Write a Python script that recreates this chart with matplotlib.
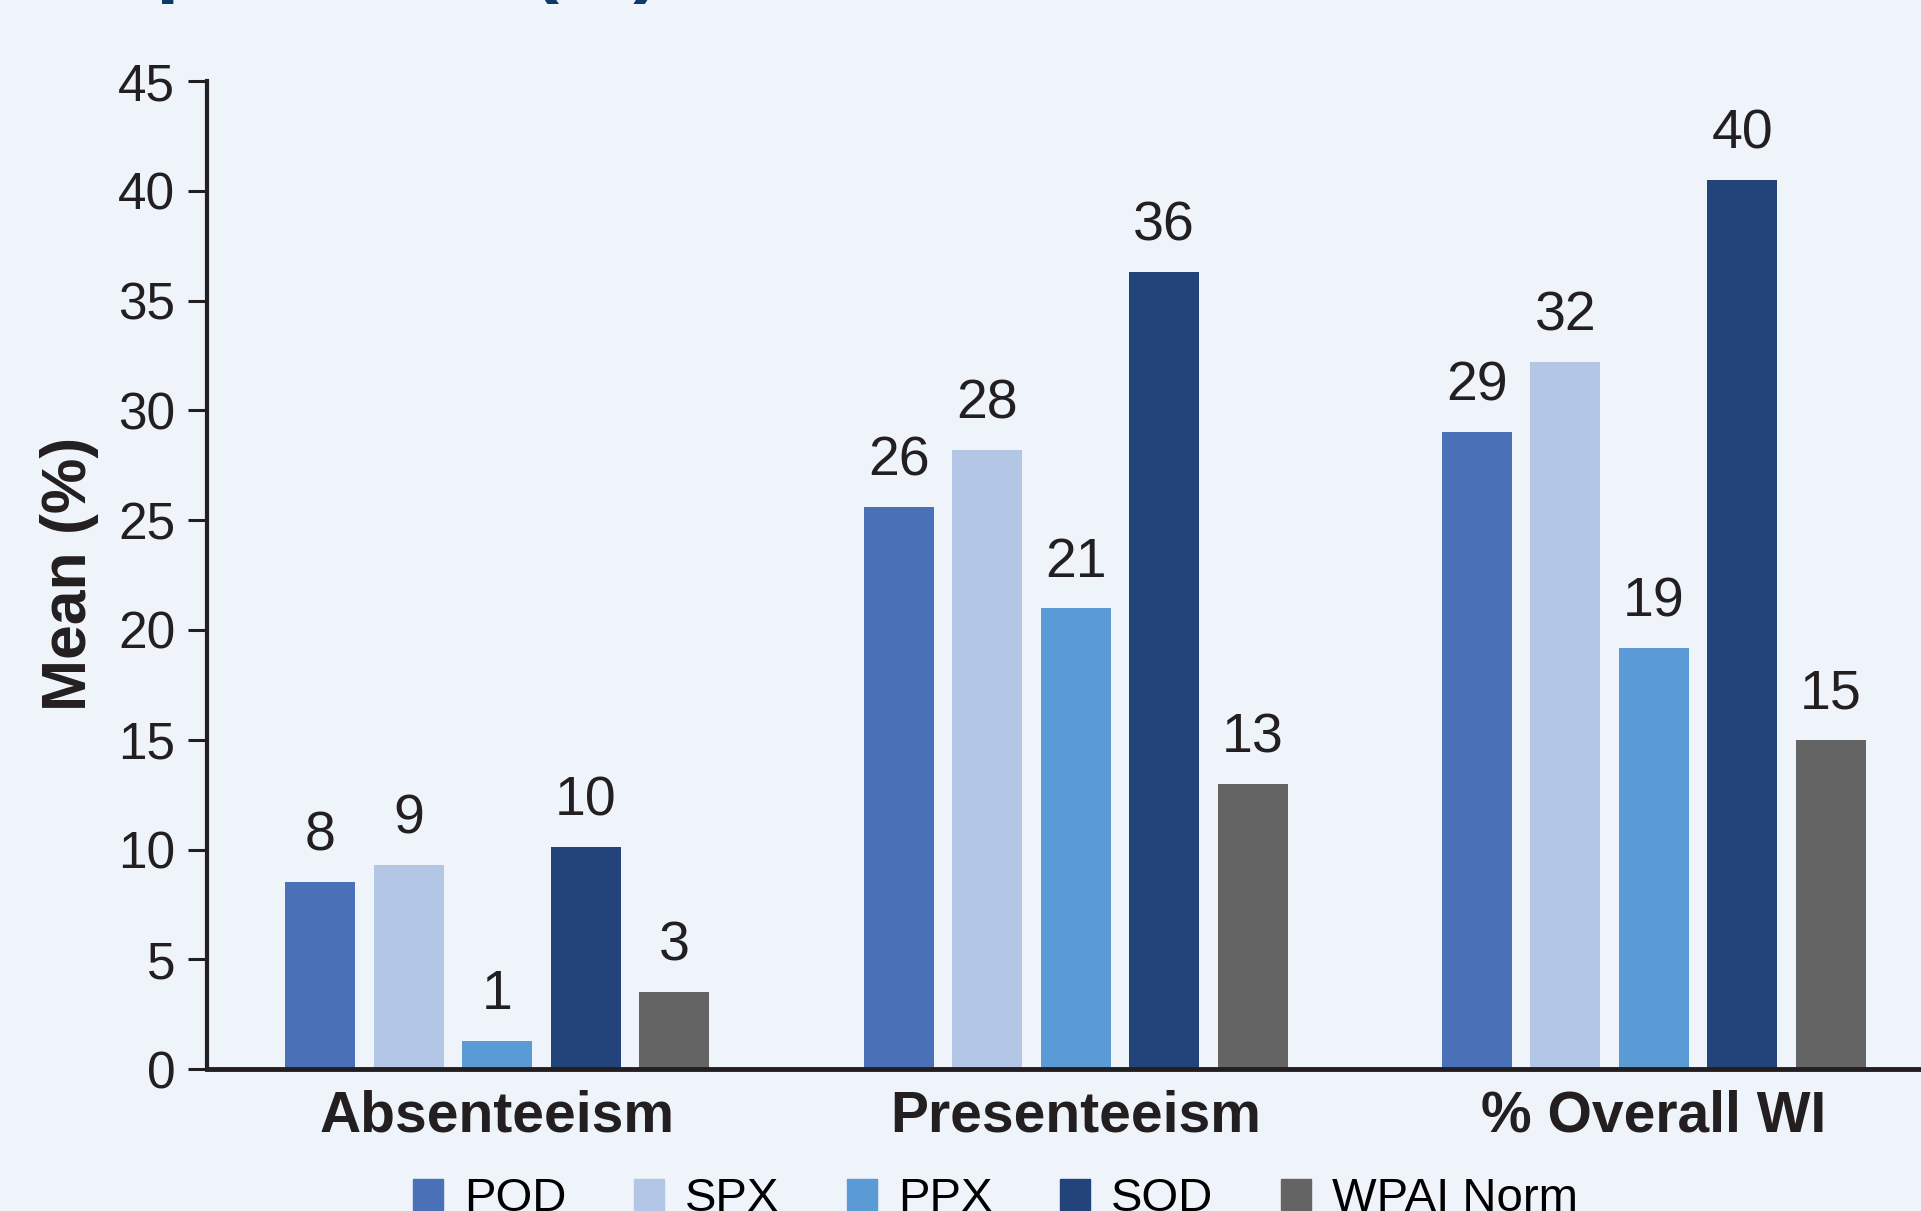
import numpy as np
import matplotlib.pyplot as plt
from matplotlib.patches import Patch

categorias = ["Absenteeism", "Presenteeism", "% Overall WI"]
grupos = ["POD", "SPX", "PPX", "SOD", "WPAI Norm"]
colores = ["#4A71B7", "#B3C6E6", "#5B9BD5", "#22447A", "#646464"]

valores = {
    "POD": [8.5, 25.6, 29.0],
    "SPX": [9.3, 28.2, 32.2],
    "PPX": [1.3, 21.0, 19.2],
    "SOD": [10.1, 36.3, 40.5],
    "WPAI Norm": [3.5, 13.0, 15.0],
}
etiquetas = {
    "POD": ["8", "26", "29"],
    "SPX": ["9", "28", "32"],
    "PPX": ["1", "21", "19"],
    "SOD": ["10", "36", "40"],
    "WPAI Norm": ["3", "13", "15"],
}

fondo = "#EFF4FB"
plt.rcParams['font.family'] = ['Liberation Sans', 'DejaVu Sans']

fig = plt.figure(figsize=(19.21, 12.11), dpi=100, facecolor=fondo)
ax = fig.add_axes([0.1078, 0.1172, 0.8922, 0.8159])
ax.set_facecolor(fondo)

x = np.arange(len(categorias))
paso = 0.153
ancho = 0.121
for i, g in enumerate(grupos):
    pos = x + (i - 2) * paso
    barras = ax.bar(pos, valores[g], width=ancho, color=colores[i], label=g)
    for b, t in zip(barras, etiquetas[g]):
        ax.annotate(t, (b.get_x() + b.get_width() / 2, b.get_height()),
                    xytext=(0, 14), textcoords="offset points",
                    ha="center", va="bottom", fontsize=40, color="#231F20")

ax.set_xlim(-0.502, 2.462)
ax.set_ylim(0, 45)
ax.set_yticks(np.arange(0, 46, 5))
ax.set_xticks(x)
ax.set_xticklabels(categorias, fontsize=41, fontweight="bold", color="#231F20")
ax.tick_params(axis="x", length=0, pad=15)
ax.tick_params(axis="y", length=14, width=2.2, pad=9, labelsize=37,
               colors="#231F20", direction="out")

for s in ["top", "right"]:
    ax.spines[s].set_visible(False)
ax.spines["left"].set_linewidth(3)
ax.spines["bottom"].set_linewidth(3.5)
ax.spines["left"].set_color("#231F20")
ax.spines["bottom"].set_color("#231F20")

fig.text(0.036, 0.526, "Mean (%)", rotation=90, ha="center", va="center",
         fontsize=45, fontweight="bold", color="#231F20",
         family=['Liberation Sans Narrow', 'Liberation Sans'])

# titulo cortado arriba
fig.text(0.344, 1.011, "Impairment (%)", ha="right", va="baseline",
         fontsize=60, fontweight="bold", color="#0B3A6B")

manijas = [Patch(color=c) for c in colores]
fig.legend(manijas, grupos, loc="upper left", bbox_to_anchor=(0.215, 0.028),
           ncol=5, frameon=False, fontsize=34, handlelength=0.64,
           handleheight=0.64, handletextpad=0.45, columnspacing=1.42,
           borderpad=0, borderaxespad=0)

plt.savefig("out.png", dpi=100, facecolor=fondo)
